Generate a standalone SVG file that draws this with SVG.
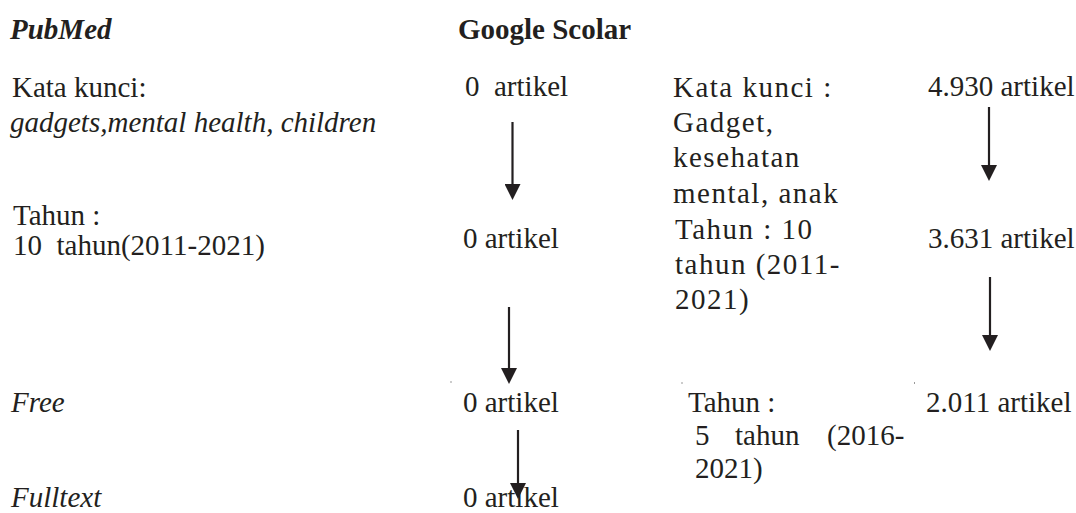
<svg xmlns="http://www.w3.org/2000/svg" width="1076" height="513" viewBox="0 0 1076 513" font-family="'Liberation Serif', 'Times New Roman', Tinos, 'DejaVu Serif', serif">
<style>
text{font-size:29px;fill:#231f20}
.bi{font-weight:bold;font-style:italic}
.b{font-weight:bold}
.i{font-style:italic}
.sp{letter-spacing:1.5px}
.conn line{stroke:#231f20;stroke-width:2.2;fill:none}
.speck{fill:#9a9a9a}
</style>
<defs>
<marker id="ah" viewBox="0 0 16 16" refX="0" refY="8" markerWidth="16" markerHeight="16" markerUnits="userSpaceOnUse" orient="auto">
<path d="M0,0 L16,8 L0,16 z" fill="#231f20"/>
</marker>
</defs>
<rect width="1076" height="513" fill="#ffffff"/>
<g id="hdr-pubmed"><text class="bi" x="10" y="39">PubMed</text></g>
<g id="hdr-google"><text class="b" x="458" y="39">Google Scolar</text></g>
<g id="pm-kata"><text x="12" y="97">Kata kunci:</text><text class="i" x="10" y="132">gadgets,mental health, children</text></g>
<g id="pm-tahun"><text x="13" y="225">Tahun :</text><text x="13" y="255" xml:space="preserve">10  tahun(2011-2021)</text></g>
<g id="pm-free"><text class="i" x="11" y="412">Free</text></g>
<g id="pm-fulltext"><text class="i" x="11" y="507">Fulltext</text></g>
<g id="pm-r1"><text x="465" y="96" xml:space="preserve">0  artikel</text></g>
<g id="pm-r2"><text x="463" y="248">0 artikel</text></g>
<g id="pm-r3"><text x="463" y="412">0 artikel</text></g>
<g id="pm-r4"><text x="463" y="507">0 artikel</text></g>
<g id="gs-kata"><text class="sp" x="673" y="97">Kata kunci :</text><text class="sp" x="673" y="132">Gadget,</text><text class="sp" x="673" y="167">kesehatan</text><text class="sp" x="673" y="203">mental, anak</text></g>
<g id="gs-tahun10"><text class="sp" x="675" y="239">Tahun : 10</text><text class="sp" x="675" y="274">tahun (2011-</text><text class="sp" x="675" y="309">2021)</text></g>
<g id="gs-tahun5"><text x="688" y="412">Tahun :</text><text x="695" y="445"><tspan x="695">5</tspan><tspan x="735">tahun</tspan><tspan x="827">(2016-</tspan></text><text x="695" y="478">2021)</text></g>
<g id="gs-r1"><text x="928" y="96">4.930 artikel</text></g>
<g id="gs-r2"><text x="928" y="248">3.631 artikel</text></g>
<g id="gs-r3"><text x="926" y="412">2.011 artikel</text></g>
<g id="connectors" class="conn">
<line x1="512.5" y1="122" x2="512.5" y2="184" marker-end="url(#ah)"/>
<line x1="509" y1="307" x2="509" y2="368" marker-end="url(#ah)"/>
<line x1="518" y1="430" x2="518" y2="483" marker-end="url(#ah)"/>
<line x1="989" y1="107" x2="989" y2="165" marker-end="url(#ah)"/>
<line x1="990" y1="277" x2="990" y2="335" marker-end="url(#ah)"/>
</g>
<g id="specks">
<rect class="speck" x="450.5" y="381" width="1" height="2"/>
<rect class="speck" x="681.5" y="382" width="1" height="2"/>
<rect class="speck" x="914" y="382" width="1" height="2"/>
</g>
</svg>
